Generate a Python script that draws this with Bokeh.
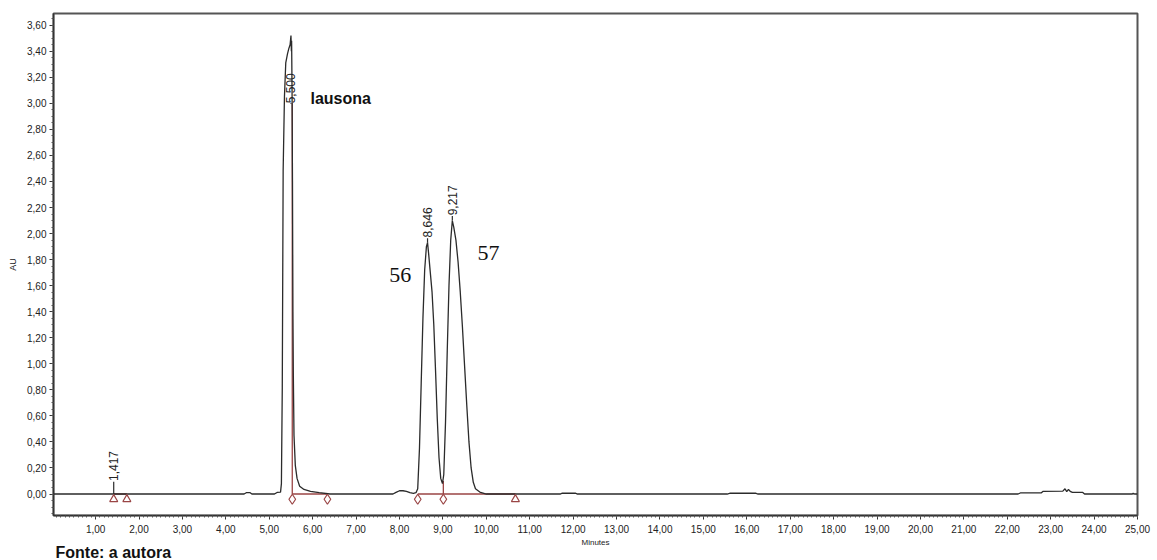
import math
from bokeh.plotting import figure
from bokeh.models import Range1d, FixedTicker, CustomJSTickFormatter, Title
from bokeh.core.properties import value
from bokeh.embed import file_html
from bokeh.resources import INLINE

# ---------------- data ----------------
time_min = [
    0.00, 4.42, 4.47, 4.56, 4.60, 5.12, 5.18, 5.26,
    5.28, 5.30, 5.32, 5.35, 5.38, 5.42, 5.45, 5.48, 5.50, 5.51, 5.515, 5.525,
    5.535, 5.545, 5.555, 5.57, 5.60, 5.64, 5.70, 5.80, 5.95, 6.15, 6.40,
    7.85, 7.92, 8.00, 8.08, 8.16, 8.24, 8.32, 8.38, 8.42,
    8.46, 8.50, 8.54, 8.58, 8.62, 8.646, 8.67, 8.71, 8.75, 8.79, 8.83, 8.87, 8.91, 8.95, 8.99,
    9.02, 9.06, 9.10, 9.14, 9.18, 9.217, 9.25, 9.30, 9.35, 9.40, 9.45, 9.50, 9.55, 9.60, 9.65,
    9.70, 9.75, 9.85, 10.00,
    11.70, 11.75, 12.05, 12.10, 15.55, 15.62, 16.20, 16.26,
    22.25, 22.30, 22.78, 22.82, 23.28, 23.33, 23.37, 23.41, 23.45, 23.50, 23.74, 23.78,
    24.88, 24.90, 24.93, 25.00,
]
absorbance_au = [
    0.000, 0.000, 0.010, 0.010, 0.000, 0.000, 0.012, 0.015,
    0.08, 0.82, 2.48, 3.05, 3.31, 3.38, 3.42, 3.45, 3.52, 3.40, 3.48, 3.10,
    2.40, 1.40, 0.90, 0.45, 0.22, 0.12, 0.06, 0.035, 0.02, 0.01, 0.000,
    0.000, 0.012, 0.025, 0.025, 0.020, 0.010, 0.005, 0.010, 0.040,
    0.35, 0.85, 1.35, 1.72, 1.90, 1.93, 1.85, 1.70, 1.55, 1.30, 0.95, 0.58, 0.28, 0.12, 0.08,
    0.15, 0.55, 1.10, 1.60, 1.95, 2.10, 2.05, 1.95, 1.78, 1.55, 1.28, 0.98, 0.68, 0.40, 0.20,
    0.09, 0.04, 0.015, 0.000,
    0.000, 0.006, 0.006, 0.000, 0.000, 0.006, 0.006, 0.000,
    0.000, 0.008, 0.008, 0.020, 0.022, 0.040, 0.018, 0.035, 0.020, 0.012, 0.012, 0.000,
    0.000, 0.006, 0.000, 0.000,
]
assert len(time_min) == len(absorbance_au)

# retention-time labels
peak_rt = [1.417, 5.500, 8.646, 9.217]
peak_rt_text = ["1,417", "5,500", "8,646", "9,217"]
peak_apex = [0.00, 3.00, 1.93, 2.10]
peak_label_start = [0.10, 3.00, 1.97, 2.14]

# integration events (start/end markers)
event_t = [1.417, 1.72, 10.67]
event_diamond_t = [5.53, 6.34, 8.42, 9.01]
baseline_x0 = [1.417, 5.53, 8.42]
baseline_x1 = [1.72, 6.34, 10.67]
drop_t = [5.53, 9.01]
drop_top = [3.00, 0.10]

# annotations
names = ["lausona"]
name_x = [5.95]
name_y = [3.04]
compound_ids = ["56", "57"]
compound_x = [8.02, 10.05]
compound_y = [1.68, 1.85]
source_note = "Fonte: a autora"

y_ticks = [round(0.2 * i, 2) for i in range(19)]
x_ticks = list(range(1, 26))

# ---------------- figure ----------------
p = figure(width=1157, height=560, output_backend="svg", toolbar_location=None,
           x_range=Range1d(0.03, 25.0), y_range=Range1d(-0.165, 3.69),
           min_border_left=53, min_border_right=20, min_border_top=13, min_border_bottom=45)
p.background_fill_color = "white"
p.border_fill_color = "white"
p.xgrid.visible = False
p.ygrid.visible = False
p.outline_line_color = "#555555"
p.outline_line_width = 2

fmt = CustomJSTickFormatter(code="return tick.toFixed(2).replace('.', ',');")
p.yaxis.ticker = FixedTicker(ticks=y_ticks, minor_ticks=[round(-0.15 + 0.05 * i, 2) for i in range(77)])
p.xaxis.ticker = FixedTicker(ticks=x_ticks, minor_ticks=[round(0.1 * i, 1) for i in range(1, 251)])
for ax in (p.xaxis[0], p.yaxis[0]):
    ax.formatter = fmt
    ax.axis_line_color = "#333333"
    ax.axis_line_width = 1.5
    ax.major_tick_line_color = "#333333"
    ax.minor_tick_line_color = "#555555"
    ax.major_tick_in = 0
    ax.major_tick_out = 4
    ax.minor_tick_in = 0
    ax.minor_tick_out = 2
    ax.major_label_text_font = "Liberation Sans"
    ax.major_label_text_font_size = "10px"
    ax.major_label_text_color = "#222222"
    ax.axis_label_text_font = "Liberation Sans"
    ax.axis_label_text_font_style = "normal"
    ax.axis_label_text_color = "#222222"
p.yaxis.major_label_standoff = 3
p.xaxis.major_label_standoff = 5
p.yaxis.axis_label = "AU"
p.yaxis.axis_label_text_font_size = "9px"
p.yaxis.axis_label_standoff = 6
p.xaxis.axis_label = "Minutes"
p.xaxis.axis_label_text_font_size = "8px"
p.xaxis.axis_label_standoff = 2

p.add_layout(Title(text=source_note, align="left", offset=2, standoff=-16,
                   text_font="Liberation Sans", text_font_style="bold", text_font_size="16px",
                   text_color="#111111"), "below")

red = "#9a4545"
# integration baselines and drop lines
p.segment(x0=baseline_x0, y0=[0] * len(baseline_x0), x1=baseline_x1, y1=[0] * len(baseline_x1),
          line_color=red, line_width=1.3)
p.segment(x0=drop_t, y0=[0] * len(drop_t), x1=drop_t, y1=drop_top, line_color=red, line_width=1.3)

# chromatogram trace
p.line(time_min, absorbance_au, line_color="#2b2b2b", line_width=1.3)

# event markers
p.scatter(event_t, [-0.04] * len(event_t), marker="triangle", size=8,
          line_color=red, fill_color="white", line_width=1.2)
p.scatter(event_diamond_t, [-0.04] * len(event_diamond_t), marker="diamond", size=10,
          line_color=red, fill_color="white", line_width=1.2)

# label connectors
p.segment(x0=peak_rt, y0=peak_apex, x1=peak_rt, y1=[s - 0.005 for s in peak_label_start],
          line_color="#2b2b2b", line_width=1.2)
p.text(x=peak_rt, y=peak_label_start, text=peak_rt_text, angle=math.pi / 2,
       text_align="left", text_baseline="middle", text_font=value("Liberation Sans"),
       text_font_size="12px", text_color="#222222")

p.text(x=name_x, y=name_y, text=names, text_align="left", text_baseline="middle",
       text_font=value("Liberation Sans"), text_font_style="bold", text_font_size="16px",
       text_color="#111111")
p.text(x=compound_x, y=compound_y, text=compound_ids, text_align="center", text_baseline="middle",
       text_font=value("Liberation Serif"), text_font_size="22px", text_color="#111111")

open("out.html", "w").write(file_html(p, INLINE))
